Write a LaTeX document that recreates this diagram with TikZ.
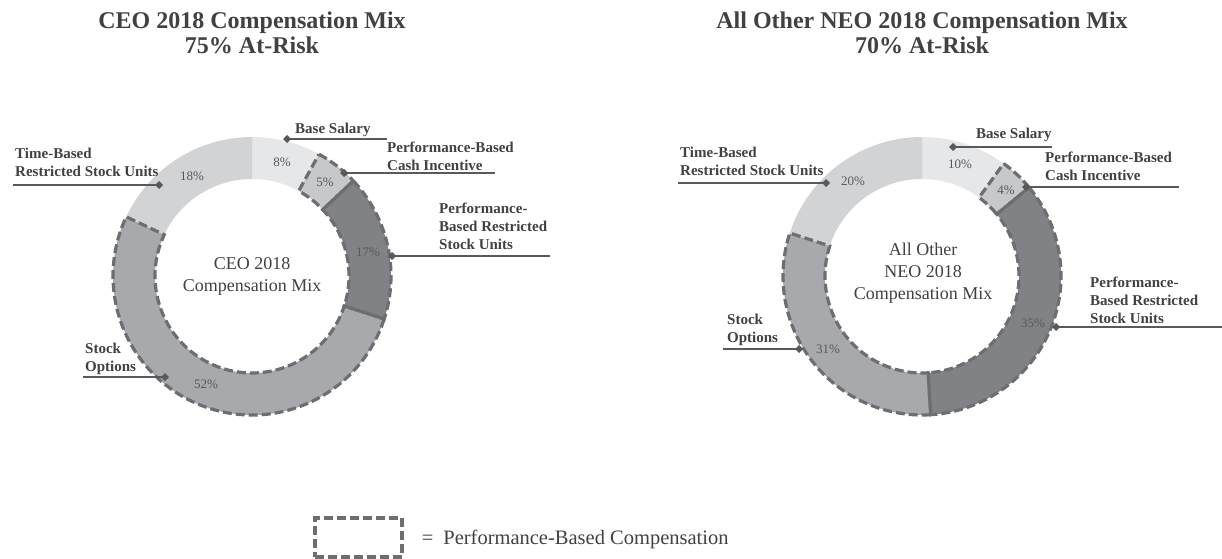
\documentclass[tikz,border=0pt]{standalone}
\usepackage{fontspec}
\setmainfont{Liberation Serif}
\usetikzlibrary{arrows.meta,calc,positioning}
\definecolor{basecol}{HTML}{E6E7E8}
\definecolor{cashcol}{HTML}{C7C8CA}
\definecolor{prsucol}{HTML}{808285}
\definecolor{optcol}{HTML}{A7A9AC}
\definecolor{timecol}{HTML}{D1D3D4}
\definecolor{dashcol}{HTML}{6D6E71}
\definecolor{inkcol}{HTML}{414042}
\definecolor{leadcol}{HTML}{58595B}
\tikzset{
    perf/.style={draw=dashcol, line width=3.2pt, dash pattern=on 9pt off 4pt},
    leader/.style={{Diamond[length=8pt, width=8pt]}-, draw=leadcol, line width=2.2pt},
    lbl/.style={font=\fontsize{15}{18}\selectfont\bfseries, text=inkcol, align=left, inner sep=0pt, anchor=north west},
    pct/.style={font=\fontsize{13}{15}\selectfont, text=leadcol, inner sep=0pt},
    midtxt/.style={font=\fontsize{18}{22}\selectfont, text=inkcol, align=center},
    ttl/.style={font=\fontsize{24}{25}\selectfont\bfseries, text=inkcol, align=center}
}
\newcommand{\donutout}{139}
\newcommand{\donutin}{97}
% one slice of a ring: centre, from angle, to angle, style
\newcommand{\ringpart}[4]{%
  \path[#4] ($(#1)+(#2:\donutout)$) arc[start angle=#2, end angle=#3, radius=\donutout]
    -- ($(#1)+(#3:\donutin)$) arc[start angle=#3, end angle=#2, radius=\donutin] -- cycle;}

\begin{document}
\begin{tikzpicture}[x=1pt, y=1pt]
\useasboundingbox (0,0) rectangle (1222,558);

% CEO ring
\coordinate (ceo) at (252,282);
\ringpart{ceo}{90}{61.2}{fill=basecol}
\ringpart{ceo}{61.2}{43.2}{fill=cashcol}
\ringpart{ceo}{43.2}{-18}{fill=prsucol}
\ringpart{ceo}{-18}{-205.2}{fill=optcol}
\ringpart{ceo}{-205.2}{-270}{fill=timecol}
\ringpart{ceo}{61.2}{43.2}{perf}
\ringpart{ceo}{43.2}{-18}{perf}
\ringpart{ceo}{-18}{-205.2}{perf}

\node[ttl] (ceoTitle) at (252,525) {CEO 2018 Compensation Mix\\75\% At-Risk};
\node[midtxt] (ceoMid) at (ceo) {CEO 2018\\Compensation Mix};

\node[pct] (ceoP1) at (282,396) {8\%};
\node[pct] (ceoP2) at (325,376) {5\%};
\node[pct] (ceoP3) at (368,306) {17\%};
\node[pct] (ceoP4) at (206,174) {52\%};
\node[pct] (ceoP5) at (192,382) {18\%};

\coordinate (ceoBaseD) at (283,419);   \coordinate (ceoBaseE) at (387,419);
\coordinate (ceoCashD) at (340,385);   \coordinate (ceoCashE) at (495,385);
\coordinate (ceoPrsuD) at (388,302);   \coordinate (ceoPrsuE) at (550,302);
\coordinate (ceoTimeD) at (163,373);   \coordinate (ceoTimeE) at (13,373);
\coordinate (ceoOptD) at (169,181);    \coordinate (ceoOptE) at (83,181);
\draw[leader] (ceoBaseD) -- (ceoBaseE);
\draw[leader] (ceoCashD) -- (ceoCashE);
\draw[leader] (ceoPrsuD) -- (ceoPrsuE);
\draw[leader] (ceoTimeD) -- (ceoTimeE);
\draw[leader] (ceoOptD) -- (ceoOptE);

\node[lbl] (ceoBase) at (295,435) {Base Salary};
\node[lbl] (ceoCash) at (387,416) {Performance-Based\\Cash Incentive};
\node[lbl] (ceoPrsu) at (439,355) {Performance-\\Based Restricted\\Stock Units};
\node[lbl] (ceoTime) at (15,410) {Time-Based\\Restricted Stock Units};
\node[lbl] (ceoOpt) at (85,215) {Stock\\Options};

% other NEO ring
\coordinate (neo) at (922,282);
\ringpart{neo}{90}{54}{fill=basecol}
\ringpart{neo}{54}{39.6}{fill=cashcol}
\ringpart{neo}{39.6}{-86.4}{fill=prsucol}
\ringpart{neo}{-86.4}{-198}{fill=optcol}
\ringpart{neo}{-198}{-270}{fill=timecol}
\ringpart{neo}{54}{39.6}{perf}
\ringpart{neo}{39.6}{-86.4}{perf}
\ringpart{neo}{-86.4}{-198}{perf}

\node[ttl] (neoTitle) at (922,525) {All Other NEO 2018 Compensation Mix\\70\% At-Risk};
\node[midtxt] (neoMid) at (923,285) {All Other\\NEO 2018\\Compensation Mix};

\node[pct] (neoP1) at (960,394) {10\%};
\node[pct] (neoP2) at (1006,368) {4\%};
\node[pct] (neoP3) at (1033,235) {35\%};
\node[pct] (neoP4) at (828,209) {31\%};
\node[pct] (neoP5) at (853,377) {20\%};

\coordinate (neoBaseD) at (949,411);   \coordinate (neoBaseE) at (1052,411);
\coordinate (neoCashD) at (1022,371);  \coordinate (neoCashE) at (1179,371);
\coordinate (neoPrsuD) at (1052,231);  \coordinate (neoPrsuE) at (1222,231);
\coordinate (neoTimeD) at (830,375);   \coordinate (neoTimeE) at (678,375);
\coordinate (neoOptD) at (803,209);    \coordinate (neoOptE) at (723,209);
\draw[leader] (neoBaseD) -- (neoBaseE);
\draw[leader] (neoCashD) -- (neoCashE);
\draw[leader] (neoPrsuD) -- (neoPrsuE);
\draw[leader] (neoTimeD) -- (neoTimeE);
\draw[leader] (neoOptD) -- (neoOptE);

\node[lbl] (neoBase) at (976,430) {Base Salary};
\node[lbl] (neoCash) at (1045,406) {Performance-Based\\Cash Incentive};
\node[lbl] (neoPrsu) at (1090,281) {Performance-\\Based Restricted\\Stock Units};
\node[lbl] (neoTime) at (680,411) {Time-Based\\Restricted Stock Units};
\node[lbl] (neoOpt) at (727,244) {Stock\\Options};

% key
\node[perf, minimum width=87pt, minimum height=39pt] (key) at (358.5,20.5) {};
\node[right=18pt of key, yshift=-2pt, inner sep=0pt, text=inkcol, font=\fontsize{20.5}{22}\selectfont] (keyTxt) {=\hspace{10pt}Performance-Based Compensation};
\end{tikzpicture}
\end{document}
